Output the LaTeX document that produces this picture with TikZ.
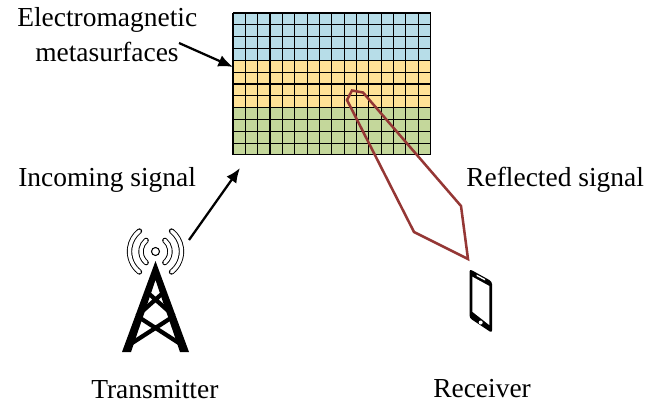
\documentclass[tikz,border=0pt]{standalone}
\usepackage{fontspec}
\setmainfont{Liberation Serif}
\usetikzlibrary{arrows.meta}
\definecolor{blueband}{HTML}{B7DDE8}
\definecolor{yellowband}{HTML}{FFE297}
\definecolor{greenband}{HTML}{C4D79B}
\definecolor{beam}{HTML}{953735}
\tikzset{
  label text/.style={font=\fontsize{20.6pt}{24pt}\selectfont,inner sep=0pt,align=center,anchor=base west},
  signal/.style={line width=1.7pt,-{Latex[length=11pt,width=9pt]}},
  towerbar/.style={line width=3.2pt},
  wave/.style={double=white,draw=black,double distance=2.6pt,line width=0.7pt,line cap=round}
}
\begin{document}
\begin{tikzpicture}[x=0.75pt,y=-0.75pt]
\useasboundingbox (0,0) rectangle (658,403);
% bands
\fill[blueband] (233,13) rectangle (430.5,60);
\fill[yellowband] (233,60) rectangle (430.5,107);
\fill[greenband] (233,107) rectangle (430.5,155);
\foreach \i in {0,...,16} \draw[black,line width=0.8pt] ({233+\i*12.34},13) -- ({233+\i*12.34},155);
\foreach \j in {0,...,12} \draw[black,line width=0.8pt] (233,{13+\j*11.83}) -- (430.5,{13+\j*11.83});
% beam
\draw[beam,line width=1.9pt,line join=miter] (468,259) -- (461,206) -- (363,92.5) -- (352,90.5) -- (347,100) -- (414,232) -- cycle;
% labels
\node[label text] (em1) at (17,27) {Electromagnetic};
\node[label text] (em2) at (35,62) {metasurfaces};
\node[label text] (inc) at (18,186) {Incoming signal};
\node[label text] (ref) at (466,186) {Reflected signal};
\node[label text] (tx) at (91,398) {Transmitter};
\node[label text] (rx) at (433,397) {Receiver};
% arrows
\coordinate (a1) at (179,43);
\coordinate (a2) at (233,67);
\coordinate (b1) at (189,240);
\coordinate (b2) at (240,168);
\draw[signal] (a1) -- (a2);
\draw[signal] (b1) -- (b2);
% tower
\fill (155.5,261) -- (122,352) -- (131,352) -- (155.5,280) -- (180,352) -- (189,352) -- cycle;
\draw[towerbar] (147,292) -- (174,316) (164,292) -- (137,316);
\draw[towerbar] (174,316) -- (129,345) (137,316) -- (182,345);
\draw[black,line width=0.8pt] (155.5,251.5) circle (4);
\draw[wave] (155.5,251.5) ++(130:14.5) arc[start angle=130,end angle=230,radius=14.5];
\draw[wave] (155.5,251.5) ++(50:14.5) arc[start angle=50,end angle=-50,radius=14.5];
\draw[wave] (155.5,251.5) ++(128:26) arc[start angle=128,end angle=232,radius=26];
\draw[wave] (155.5,251.5) ++(52:26) arc[start angle=52,end angle=-52,radius=26];
% phone
\fill[black,rounded corners=2pt] (469.5,269) -- (492,281.5) -- (492,333) -- (469.5,318) -- cycle;
\fill[white] (472.3,276.7) -- (489.3,286) -- (489.3,325) -- (472.3,311.7) -- cycle;
\fill[white] (476.5,274.5) -- (485,279) -- (485,280.5) -- (476.5,276) -- cycle;
\fill[white] (480.7,322.5) circle (2);
\end{tikzpicture}
\end{document}
